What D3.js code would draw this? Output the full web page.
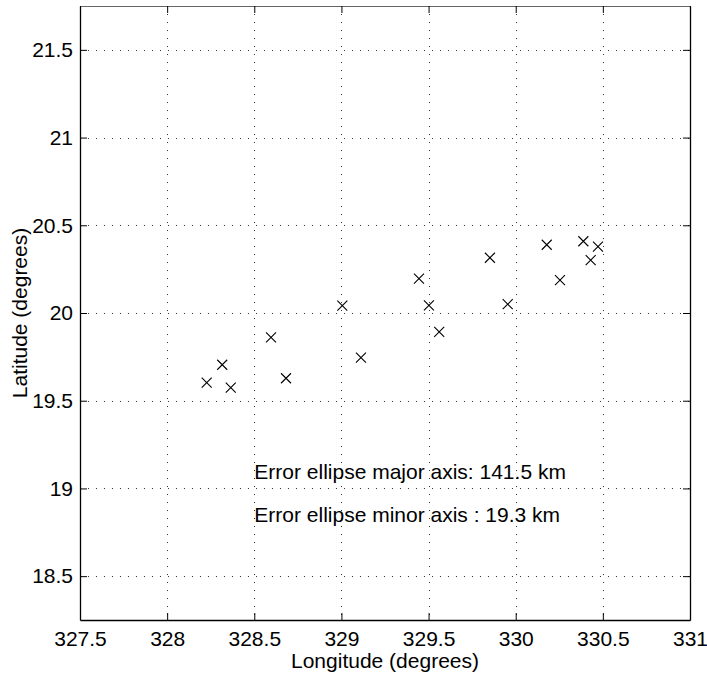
<!DOCTYPE html>
<html>
<head>
<meta charset="utf-8">
<script src="https://cdn.jsdelivr.net/npm/d3@7"></script>
<style>
  html, body { margin: 0; padding: 0; background: #fff; }
  svg { display: block; }
  text { font-family: "Liberation Sans", Arial, Helvetica, sans-serif; }
</style>
</head>
<body>
<svg id="chart" width="707" height="673"></svg>
<script>
// ---- data ----
const longitudes = [328.227, 328.316, 328.365, 328.596, 328.682, 329.005, 329.112,
                    329.445, 329.502, 329.561, 329.852, 329.954, 330.178, 330.254,
                    330.388, 330.430, 330.472];
const latitudes  = [19.603, 19.705, 19.574, 19.861, 19.628, 20.042, 19.745,
                    20.196, 20.044, 19.893, 20.315, 20.050, 20.389, 20.188,
                    20.409, 20.302, 20.378];
const xTicks = [327.5, 328, 328.5, 329, 329.5, 330, 330.5, 331];
const yTicks = [18.5, 19, 19.5, 20, 20.5, 21, 21.5];
const xDomain = [327.5, 331];
const yDomain = [18.25, 21.75];
const annotations = ["Error ellipse major axis: 141.5 km", "Error ellipse minor axis : 19.3 km"];
const annotationX = 328.5;
const annotationY = [19.054, 18.809];
const xLabel = "Longitude (degrees)";
const yLabel = "Latitude (degrees)";

// ---- layout ----
const W = 707, H = 673;
const FS = 21;
const m = { left: 80, top: 6, right: 17, bottom: 53 };
const pw = W - m.left - m.right, ph = H - m.top - m.bottom;
const svg = d3.select("#chart");
const g = svg.append("g").attr("transform", `translate(${m.left},${m.top})`);

const x = d3.scaleLinear().domain(xDomain).range([0, pw]);
const y = d3.scaleLinear().domain(yDomain).range([ph, 0]);

// grid
const grid = g.append("g").attr("stroke", "#333").attr("stroke-width", 1)
  .attr("stroke-dasharray", "1,7").attr("shape-rendering", "crispEdges");
grid.selectAll("line.v").data(xTicks.filter(t => t > xDomain[0] && t < xDomain[1]))
  .enter().append("line").attr("class", "v")
  .attr("x1", d => Math.round(x(d)) + 0.5).attr("x2", d => Math.round(x(d)) + 0.5)
  .attr("y1", 0).attr("y2", ph);
grid.selectAll("line.h").data(yTicks)
  .enter().append("line").attr("class", "h")
  .attr("y1", d => Math.round(y(d)) + 0.5).attr("y2", d => Math.round(y(d)) + 0.5)
  .attr("x1", 0).attr("x2", pw);

// axes
const fmt = d => String(d);
const tl = 7;
function styleAxis(sel) {
  sel.selectAll("path.domain").attr("stroke", "#000").attr("stroke-width", 1.3);
  sel.selectAll(".tick line").attr("stroke", "#000").attr("stroke-width", 1);
  sel.selectAll("text").attr("fill", "#000").attr("font-size", FS)
    .attr("font-family", '"Liberation Sans", Arial, sans-serif');
}
g.append("g").attr("transform", `translate(0,${ph})`)
  .call(d3.axisBottom(x).tickValues(xTicks).tickFormat(fmt).tickSizeInner(-tl).tickSizeOuter(0).tickPadding(11))
  .call(styleAxis);
g.append("g")
  .call(d3.axisLeft(y).tickValues(yTicks).tickFormat(fmt).tickSizeInner(-tl).tickSizeOuter(0).tickPadding(7))
  .call(styleAxis);
g.append("g")
  .call(d3.axisTop(x).tickValues(xTicks).tickFormat("").tickSizeInner(-tl).tickSizeOuter(0))
  .call(styleAxis)
  .call(s => s.select("path.domain").attr("stroke-width", 1).attr("stroke", "#666"));
g.append("g").attr("transform", `translate(${pw},0)`)
  .call(d3.axisRight(y).tickValues(yTicks).tickFormat("").tickSizeInner(-tl).tickSizeOuter(0))
  .call(styleAxis);

// markers (x-shaped)
const r = 5;
const pts = longitudes.map((lon, i) => ({ lon, lat: latitudes[i] }));
g.append("g").selectAll("path").data(pts).enter().append("path")
  .attr("d", d => {
    const cx = x(d.lon), cy = y(d.lat);
    return `M${cx - r},${cy - r}L${cx + r},${cy + r}M${cx - r},${cy + r}L${cx + r},${cy - r}`;
  })
  .attr("stroke", "#000").attr("stroke-width", 1.1).attr("fill", "none");

// annotations
g.append("g").selectAll("text").data(annotations).enter().append("text")
  .attr("x", x(annotationX)).attr("y", (d, i) => y(annotationY[i]))
  .attr("font-size", FS).attr("fill", "#000").text(d => d);

// axis labels
svg.append("text").attr("x", m.left + pw / 2).attr("y", 668)
  .attr("text-anchor", "middle").attr("font-size", FS).attr("fill", "#000").text(xLabel);
svg.append("text").attr("transform", `translate(27,${m.top + ph / 2}) rotate(-90)`)
  .attr("text-anchor", "middle").attr("font-size", FS).attr("fill", "#000").text(yLabel);
</script>
</body>
</html>
